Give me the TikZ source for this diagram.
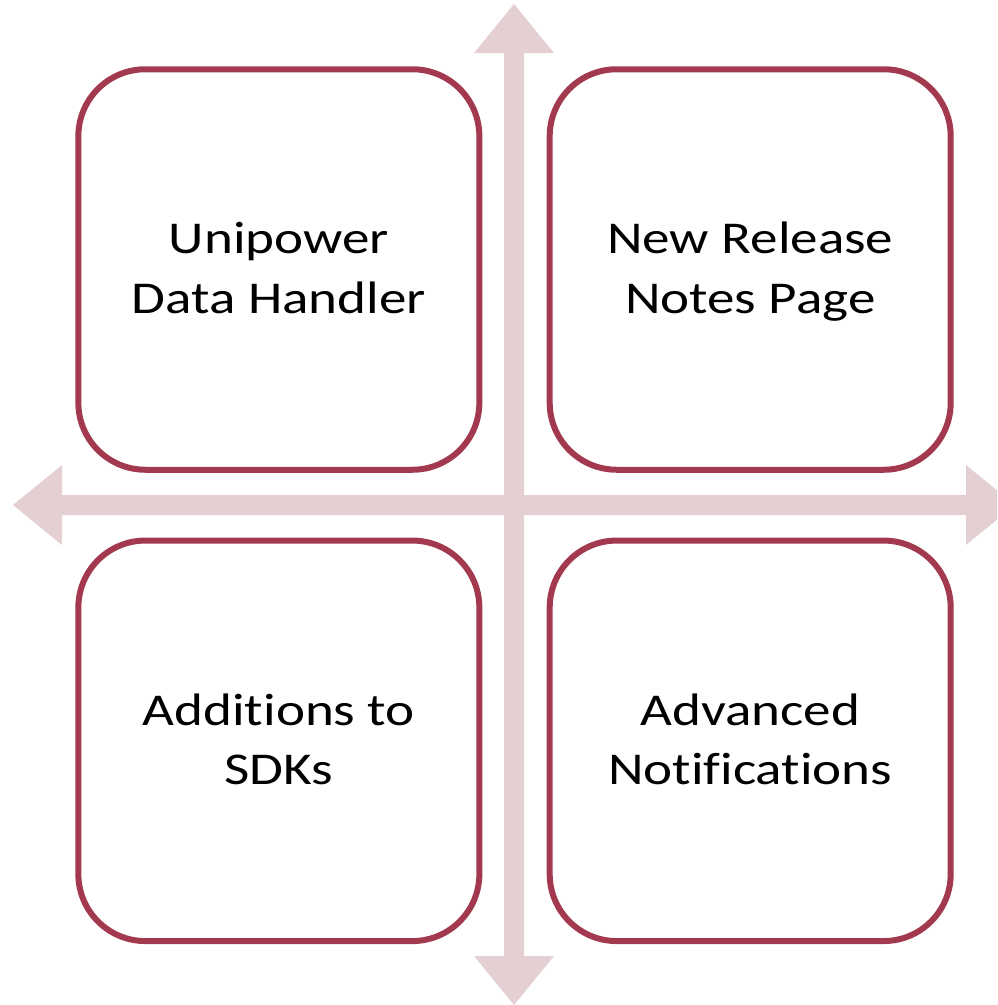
\documentclass[tikz,border=0pt]{standalone}
\usepackage{fontspec}
\setmainfont{Carlito}[Ligatures={NoCommon},FakeStretch=1.21]
\definecolor{boxline}{HTML}{A2394F}
\definecolor{axisfill}{HTML}{E4D0D3}
\begin{document}
\begin{tikzpicture}[x=1pt,y=-1pt,
  quad/.style={draw=boxline, line width=6pt, fill=white, rounded corners=67pt,
    minimum width=401pt, minimum height=400.5pt, inner sep=0pt},
  quadtext/.style={align=center, font=\fontsize{45.5}{59.3}\selectfont, text=black},
  axis/.style={fill=axisfill, draw=none}]
\useasboundingbox (0,0) rectangle (997,1005);
\clip (0,0) rectangle (997,1005);
% cross arrows
\fill[axis] (514,4) -- (554,53) -- (524,53) -- (524,956) -- (554,956) -- (514,1005)
  -- (474,956) -- (504,956) -- (504,53) -- (474,53) -- cycle;
\fill[axis] (13,505) -- (62,465) -- (62,495) -- (966,495) -- (966,465) -- (1015,505)
  -- (966,545) -- (966,515) -- (62,515) -- (62,545) -- cycle;
% boxes
\node[quad] (tl) at (278.85,269.5) {};
\node[quad] (tr) at (750.2,269.5) {};
\node[quad] (bl) at (278.85,740.8) {};
\node[quad] (br) at (750.2,740.8) {};
\node[quadtext] (tlt) at ([yshift=-2pt]tl.center) {\strut Unipower\\\strut Data Handler};
\node[quadtext] (trt) at ([yshift=-2pt]tr.center) {\strut New Release\\\strut Notes Page};
\node[quadtext] (blt) at ([yshift=-2pt]bl.center) {\strut Additions to\\\strut SDKs};
\node[quadtext] (brt) at ([yshift=-2pt]br.center) {\strut Advanced\\\strut Notifications};
\end{tikzpicture}
\end{document}
